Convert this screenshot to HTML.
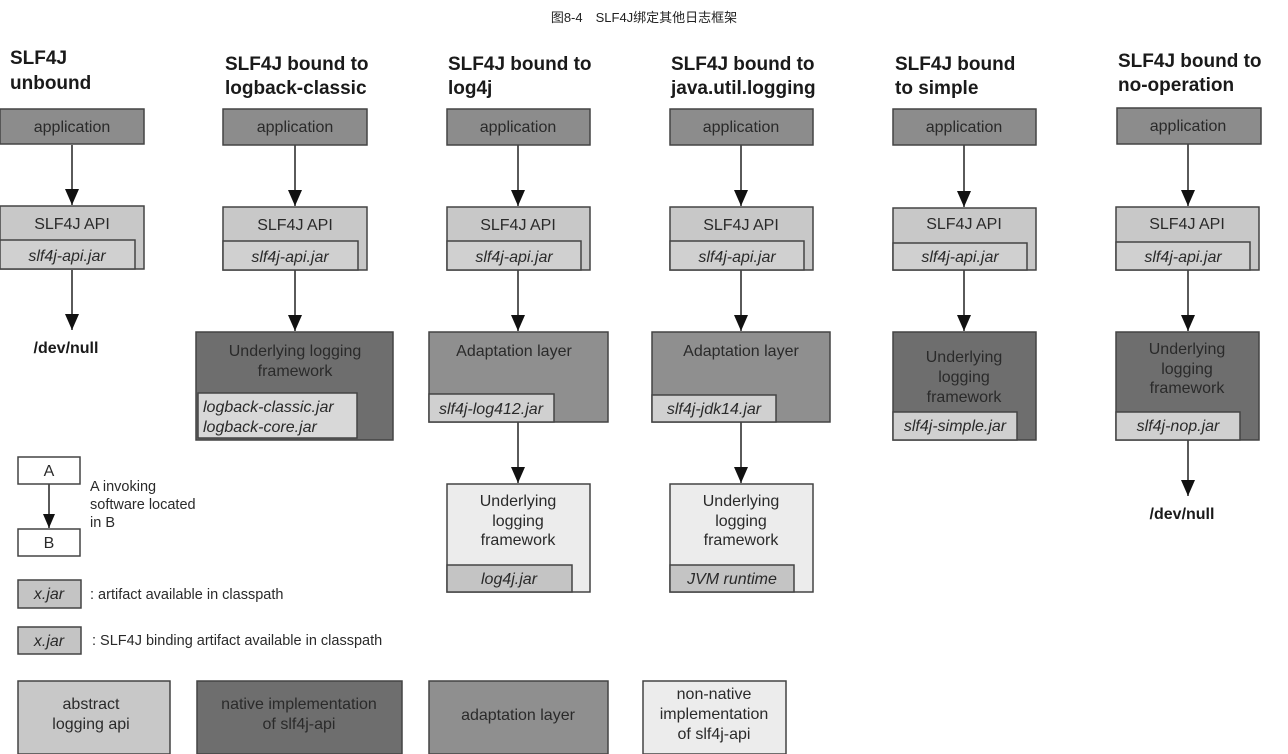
<!DOCTYPE html>
<html><head><meta charset="utf-8"><style>
html,body{margin:0;padding:0;background:#fff;}
svg{display:block;font-family:"Liberation Sans","Noto Sans CJK SC",sans-serif;}
.t{font-weight:bold;font-size:19px;fill:#1a1a1a}
.l{font-size:16px;fill:#2a2a2a;text-anchor:middle}
.i{font-size:16px;fill:#2a2a2a;font-style:italic}
.s{font-size:14.5px;fill:#2a2a2a}
rect{stroke:#444;stroke-width:1.5}
</style></head><body>
<svg width="1288" height="754" viewBox="0 0 1288 754">
<defs>
<marker id="ad" viewBox="0 0 14 16" markerWidth="14" markerHeight="16" refX="7" refY="16" orient="0" markerUnits="userSpaceOnUse"><path d="M0,0 L14,0 L7,16Z" fill="#111"/></marker>
<marker id="as" viewBox="0 0 12 14" markerWidth="12" markerHeight="14" refX="6" refY="14" orient="0" markerUnits="userSpaceOnUse"><path d="M0,0 L12,0 L6,14Z" fill="#111"/></marker></defs>
<text x="644" y="22" text-anchor="middle" style="font-size:13px" fill="#222">图8-4　SLF4J绑定其他日志框架</text>

<text class="t" x="10" y="64">SLF4J</text><text class="t" x="10" y="89">unbound</text>
<text class="t" x="225" y="70">SLF4J bound to</text><text class="t" x="225" y="94">logback-classic</text>
<text class="t" x="448" y="70">SLF4J bound to</text><text class="t" x="448" y="94">log4j</text>
<text class="t" x="671" y="70">SLF4J bound to</text><text class="t" x="671" y="94">java.util.logging</text>
<text class="t" x="895" y="70">SLF4J bound</text><text class="t" x="895" y="94">to simple</text>
<text class="t" x="1118" y="67">SLF4J bound to</text><text class="t" x="1118" y="91">no-operation</text>

<g stroke="#222" stroke-width="1.5" fill="none">
<line x1="72" y1="145" x2="72" y2="205" marker-end="url(#ad)"/>
<line x1="72" y1="270" x2="72" y2="330" marker-end="url(#ad)"/>
<line x1="295" y1="145" x2="295" y2="206" marker-end="url(#ad)"/>
<line x1="295" y1="270" x2="295" y2="331" marker-end="url(#ad)"/>
<line x1="518" y1="145" x2="518" y2="206" marker-end="url(#ad)"/>
<line x1="518" y1="270" x2="518" y2="331" marker-end="url(#ad)"/>
<line x1="518" y1="422" x2="518" y2="483" marker-end="url(#ad)"/>
<line x1="741" y1="145" x2="741" y2="206" marker-end="url(#ad)"/>
<line x1="741" y1="270" x2="741" y2="331" marker-end="url(#ad)"/>
<line x1="741" y1="422" x2="741" y2="483" marker-end="url(#ad)"/>
<line x1="964" y1="145" x2="964" y2="207" marker-end="url(#ad)"/>
<line x1="964" y1="270" x2="964" y2="331" marker-end="url(#ad)"/>
<line x1="1188" y1="144" x2="1188" y2="206" marker-end="url(#ad)"/>
<line x1="1188" y1="270" x2="1188" y2="331" marker-end="url(#ad)"/>
<line x1="1188" y1="440" x2="1188" y2="496" marker-end="url(#ad)"/>
<line x1="49" y1="484" x2="49" y2="528" marker-end="url(#as)"/>
</g>

<rect x="0" y="109" width="144" height="35" fill="#8c8c8c"/><text class="l" x="72" y="132">application</text>
<rect x="0" y="206" width="144" height="63" fill="#c8c8c8"/><text class="l" x="72" y="229">SLF4J API</text>
<rect x="0" y="240" width="135" height="29" fill="#d0d0d0"/><text class="i" x="67" y="261" text-anchor="middle">slf4j-api.jar</text>
<text x="66" y="353" text-anchor="middle" style="font-size:16px;font-weight:bold" fill="#1a1a1a">/dev/null</text>

<rect x="223" y="109" width="144" height="36" fill="#8c8c8c"/><text class="l" x="295" y="132">application</text>
<rect x="223" y="207" width="144" height="63" fill="#c8c8c8"/><text class="l" x="295" y="230">SLF4J API</text>
<rect x="223" y="241" width="135" height="29" fill="#d0d0d0"/><text class="i" x="290" y="262" text-anchor="middle">slf4j-api.jar</text>
<rect x="196" y="332" width="197" height="108" fill="#6e6e6e"/><text class="l" x="295" y="356">Underlying logging</text><text class="l" x="295" y="376">framework</text>
<rect x="198" y="393" width="159" height="45" fill="#d8d8d8"/><text class="i" x="203" y="412">logback-classic.jar</text><text class="i" x="203" y="432">logback-core.jar</text>

<rect x="447" y="109" width="143" height="36" fill="#8c8c8c"/><text class="l" x="518" y="132">application</text>
<rect x="447" y="207" width="143" height="63" fill="#c8c8c8"/><text class="l" x="518" y="230">SLF4J API</text>
<rect x="447" y="241" width="134" height="29" fill="#d0d0d0"/><text class="i" x="514" y="262" text-anchor="middle">slf4j-api.jar</text>
<rect x="429" y="332" width="179" height="90" fill="#8f8f8f"/><text class="l" x="514" y="356">Adaptation layer</text>
<rect x="429" y="394" width="125" height="28" fill="#d0d0d0"/><text class="i" x="491" y="414" text-anchor="middle">slf4j-log412.jar</text>
<rect x="447" y="484" width="143" height="108" fill="#ececec"/><text class="l" x="518" y="506">Underlying</text><text class="l" x="518" y="526">logging</text><text class="l" x="518" y="545">framework</text>
<rect x="447" y="565" width="125" height="27" fill="#c4c4c4"/><text class="i" x="509" y="584" text-anchor="middle">log4j.jar</text>

<rect x="670" y="109" width="143" height="36" fill="#8c8c8c"/><text class="l" x="741" y="132">application</text>
<rect x="670" y="207" width="143" height="63" fill="#c8c8c8"/><text class="l" x="741" y="230">SLF4J API</text>
<rect x="670" y="241" width="134" height="29" fill="#d0d0d0"/><text class="i" x="737" y="262" text-anchor="middle">slf4j-api.jar</text>
<rect x="652" y="332" width="178" height="90" fill="#8f8f8f"/><text class="l" x="741" y="356">Adaptation layer</text>
<rect x="652" y="395" width="124" height="27" fill="#d0d0d0"/><text class="i" x="714" y="414" text-anchor="middle">slf4j-jdk14.jar</text>
<rect x="670" y="484" width="143" height="108" fill="#ececec"/><text class="l" x="741" y="506">Underlying</text><text class="l" x="741" y="526">logging</text><text class="l" x="741" y="545">framework</text>
<rect x="670" y="565" width="124" height="27" fill="#c4c4c4"/><text class="i" x="732" y="584" text-anchor="middle">JVM runtime</text>

<rect x="893" y="109" width="143" height="36" fill="#8c8c8c"/><text class="l" x="964" y="132">application</text>
<rect x="893" y="208" width="143" height="62" fill="#c8c8c8"/><text class="l" x="964" y="229">SLF4J API</text>
<rect x="893" y="243" width="134" height="27" fill="#d0d0d0"/><text class="i" x="960" y="262" text-anchor="middle">slf4j-api.jar</text>
<rect x="893" y="332" width="143" height="108" fill="#6e6e6e"/><text class="l" x="964" y="362">Underlying</text><text class="l" x="964" y="382">logging</text><text class="l" x="964" y="402">framework</text>
<rect x="893" y="412" width="124" height="28" fill="#d0d0d0"/><text class="i" x="955" y="431" text-anchor="middle">slf4j-simple.jar</text>

<rect x="1117" y="108" width="144" height="36" fill="#8c8c8c"/><text class="l" x="1188" y="131">application</text>
<rect x="1116" y="207" width="143" height="63" fill="#c8c8c8"/><text class="l" x="1187" y="229">SLF4J API</text>
<rect x="1116" y="242" width="134" height="28" fill="#d0d0d0"/><text class="i" x="1183" y="262" text-anchor="middle">slf4j-api.jar</text>
<rect x="1116" y="332" width="143" height="108" fill="#6e6e6e"/><text class="l" x="1187" y="354">Underlying</text><text class="l" x="1187" y="374">logging</text><text class="l" x="1187" y="393">framework</text>
<rect x="1116" y="412" width="124" height="28" fill="#d0d0d0"/><text class="i" x="1178" y="431" text-anchor="middle">slf4j-nop.jar</text>
<text x="1182" y="519" text-anchor="middle" style="font-size:16px;font-weight:bold" fill="#1a1a1a">/dev/null</text>

<rect x="18" y="457" width="62" height="27" fill="#fff"/><text class="l" x="49" y="476">A</text>
<rect x="18" y="529" width="62" height="27" fill="#fff"/><text class="l" x="49" y="548">B</text>
<text class="s" x="90" y="491">A invoking</text><text class="s" x="90" y="509">software located</text><text class="s" x="90" y="527">in B</text>
<rect x="18" y="580" width="63" height="28" fill="#c4c4c4"/><text class="i" x="49" y="599" text-anchor="middle">x.jar</text>
<text class="s" x="90" y="599">: artifact available in classpath</text>
<rect x="18" y="627" width="63" height="27" fill="#c4c4c4"/><text class="i" x="49" y="646" text-anchor="middle">x.jar</text>
<text class="s" x="92" y="645">: SLF4J binding artifact available in classpath</text>

<rect x="18" y="681" width="152" height="73" fill="#c8c8c8"/><text class="l" x="91" y="709">abstract</text><text class="l" x="91" y="729">logging api</text>
<rect x="197" y="681" width="205" height="73" fill="#6e6e6e"/><text class="l" x="299" y="709">native implementation</text><text class="l" x="299" y="729">of slf4j-api</text>
<rect x="429" y="681" width="179" height="73" fill="#8f8f8f"/><text class="l" x="518" y="720">adaptation layer</text>
<rect x="643" y="681" width="143" height="73" fill="#ececec"/><text class="l" x="714" y="699">non-native</text><text class="l" x="714" y="719">implementation</text><text class="l" x="714" y="739">of slf4j-api</text>
</svg>
</body></html>
